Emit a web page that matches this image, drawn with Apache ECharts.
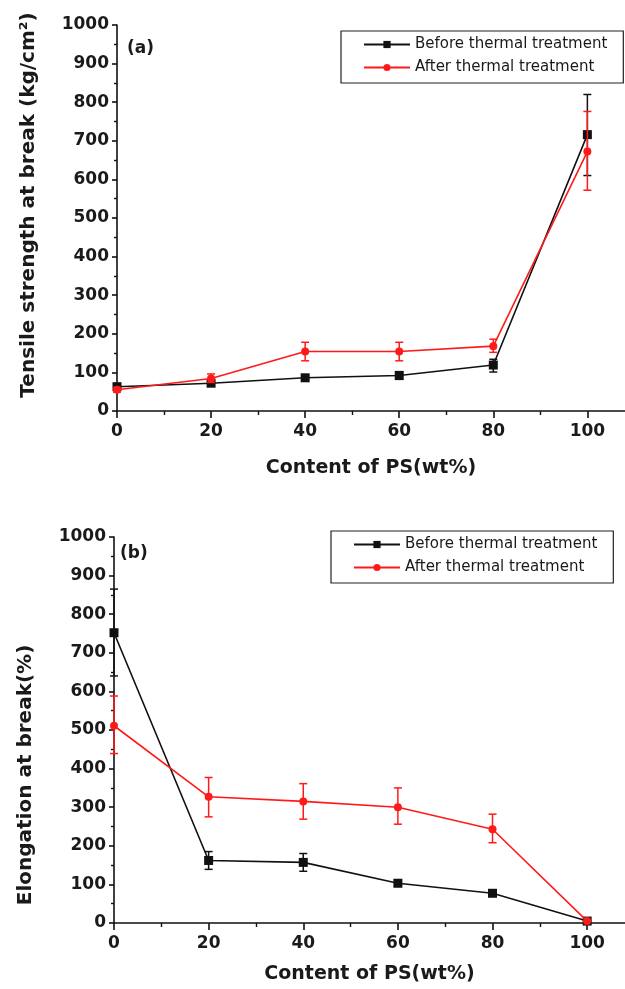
<!DOCTYPE html>
<html>
<head>
<meta charset="utf-8">
<script src="https://cdn.jsdelivr.net/npm/echarts@6/dist/echarts.min.js"></script>
<style>
html,body{margin:0;padding:0;background:#fff;}
#c{width:625px;height:989px;}
</style>
</head>
<body>
<div id="c"></div>
<script>
// ---- data ----
const psContent = [0, 20, 40, 60, 80, 100];
const xTickLabels = [0, 20, 40, 60, 80, 100];
const yTickLabels = [0, 100, 200, 300, 400, 500, 600, 700, 800, 900, 1000];

const tensileBefore     = [63, 72, 86, 92, 119, 716];
const tensileBeforeLow  = [63, 68, 80, 82, 101, 610];
const tensileBeforeHigh = [63, 76, 92, 102, 134, 820];
const tensileAfter      = [55, 84, 154, 154, 168, 672];
const tensileAfterLow   = [49, 74, 130, 130, 152, 572];
const tensileAfterHigh  = [61, 96, 178, 178, 186, 776];

const elongBefore     = [752, 162, 157, 103, 77, 5];
const elongBeforeLow  = [640, 139, 134, 95, 70, 3];
const elongBeforeHigh = [865, 185, 180, 111, 84, 7];
const elongAfter      = [511, 327, 315, 300, 243, 5];
const elongAfterLow   = [439, 275, 269, 256, 208, 3];
const elongAfterHigh  = [588, 377, 361, 350, 282, 7];

const nameBefore = 'Before thermal treatment';
const nameAfter = 'After thermal treatment';
const minorX = [10, 30, 50, 70, 90];

// ---- helpers ----
const BLACK = '#111111';
const RED = '#ff1a1a';
const FONT = 'DejaVu Sans';

function pairs(xs, ys) { return xs.map((x, i) => [x, ys[i]]); }
function triples(xs, lo, hi) { return xs.map((x, i) => [x, lo[i], hi[i]]); }

function errorSeries(idx, color, xs, lo, hi) {
  return {
    type: 'custom',
    xAxisIndex: idx * 2, yAxisIndex: idx,
    data: triples(xs, lo, hi),
    silent: true,
    z: color === RED ? 4 : 2,
    renderItem: function (params, api) {
      const x = api.value(0);
      const pLo = api.coord([x, api.value(1)]);
      const pHi = api.coord([x, api.value(2)]);
      const w = 4;
      const st = { stroke: color, lineWidth: 1.5 };
      return {
        type: 'group',
        children: [
          { type: 'line', shape: { x1: pLo[0], y1: pLo[1], x2: pHi[0], y2: pHi[1] }, style: st },
          { type: 'line', shape: { x1: pLo[0] - w, y1: pLo[1], x2: pLo[0] + w, y2: pLo[1] }, style: st },
          { type: 'line', shape: { x1: pHi[0] - w, y1: pHi[1], x2: pHi[0] + w, y2: pHi[1] }, style: st }
        ]
      };
    }
  };
}

function lineSeries(idx, name, color, symbol, size, xs, ys) {
  return {
    type: 'line', name: name,
    xAxisIndex: idx * 2, yAxisIndex: idx,
    data: pairs(xs, ys),
    symbol: symbol, symbolSize: size,
    lineStyle: { color: color, width: 1.6 },
    itemStyle: { color: color },
    z: color === RED ? 5 : 3,
    animation: false
  };
}

function mainX(gridIndex, titleGap) {
  return {
    type: 'value', gridIndex: gridIndex, position: 'bottom', min: 0, max: 108, interval: 20,
    axisLine: { show: true, onZero: false, lineStyle: { color: BLACK, width: 1.6 } },
    axisTick: { show: true, inside: false, length: 7, customValues: xTickLabels, lineStyle: { color: BLACK, width: 1.6 } },
    axisLabel: { customValues: xTickLabels, margin: 12, color: '#1a1a1a', fontFamily: FONT, fontWeight: 'bold', fontSize: 17 },
    splitLine: { show: false },
    name: 'Content of PS(wt%)', nameLocation: 'middle', nameGap: titleGap,
    nameTextStyle: { color: '#1a1a1a', fontFamily: FONT, fontWeight: 'bold', fontSize: 19 }
  };
}
function minorXAxis(gridIndex) {
  return {
    type: 'value', gridIndex: gridIndex, position: 'bottom', offset: 0, min: 0, max: 108,
    axisLine: { show: false, onZero: false },
    axisTick: { show: true, length: 4, customValues: minorX, lineStyle: { color: BLACK, width: 1.4 } },
    axisLabel: { show: false },
    splitLine: { show: false }
  };
}
function yAx(gridIndex, title, gap, pad) {
  return {
    type: 'value', gridIndex: gridIndex, min: 0, max: 1000, interval: 100,
    axisLine: { show: true, lineStyle: { color: BLACK, width: 1.6 } },
    axisTick: { show: true, length: 5, lineStyle: { color: BLACK, width: 1.6 } },
    minorTick: { show: true, splitNumber: 2, length: 3, lineStyle: { color: BLACK, width: 1.4 } },
    axisLabel: { margin: 8, color: '#1a1a1a', fontFamily: FONT, fontWeight: 'bold', fontSize: 17,
      formatter: function (v) { return String(v); } },
    splitLine: { show: false },
    name: title, nameLocation: 'middle', nameGap: gap,
    nameTextStyle: { color: '#1a1a1a', fontFamily: FONT, fontWeight: 'bold', fontSize: 20, padding: pad }
  };
}
function legendAt(left, top) {
  return {
    orient: 'vertical', left: left, top: top,
    data: [nameBefore, nameAfter],
    itemWidth: 46, itemHeight: 9, itemGap: 8,
    borderColor: '#222', borderWidth: 1.2, borderRadius: 0,
    padding: [6, 16, 8, 22],
    textStyle: { fontFamily: FONT, fontSize: 15, color: '#1a1a1a' },
    selectedMode: false
  };
}

const chart = echarts.init(document.getElementById('c'), null, { renderer: 'canvas' });
chart.setOption({
  backgroundColor: '#ffffff',
  animation: false,
  grid: [
    { left: 117, top: 25, width: 508, height: 386 },
    { left: 114, top: 537, width: 511, height: 386 }
  ],
  xAxis: [mainX(0, 48), minorXAxis(0), mainX(1, 42), minorXAxis(1)],
  yAxis: [
    yAx(0, 'Tensile strength at break (kg/cm²)', 78, [0, 0, 0, 26]),
    yAx(1, 'Elongation at break(%)', 78, [0, 90, 0, 0])
  ],
  legend: [legendAt(341, 31), legendAt(331, 531)],
  graphic: [
    { type: 'text', left: 127, top: 40, style: { text: '(a)', font: 'bold 17px "DejaVu Sans"', fill: '#1a1a1a' } },
    { type: 'text', left: 120, top: 545, style: { text: '(b)', font: 'bold 17px "DejaVu Sans"', fill: '#1a1a1a' } }
  ],
  series: [
    errorSeries(0, BLACK, psContent, tensileBeforeLow, tensileBeforeHigh),
    lineSeries(0, nameBefore, BLACK, 'rect', 9, psContent, tensileBefore),
    errorSeries(0, RED, psContent, tensileAfterLow, tensileAfterHigh),
    lineSeries(0, nameAfter, RED, 'circle', 8, psContent, tensileAfter),
    errorSeries(1, BLACK, psContent, elongBeforeLow, elongBeforeHigh),
    lineSeries(1, nameBefore, BLACK, 'rect', 9, psContent, elongBefore),
    errorSeries(1, RED, psContent, elongAfterLow, elongAfterHigh),
    lineSeries(1, nameAfter, RED, 'circle', 8, psContent, elongAfter)
  ]
});
</script>
</body>
</html>
